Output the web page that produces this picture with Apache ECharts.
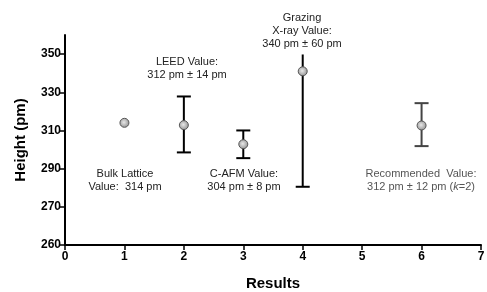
<!DOCTYPE html>
<html>
<head>
<meta charset="utf-8">
<script src="https://cdn.jsdelivr.net/npm/echarts@6/dist/echarts.min.js"></script>
<style>
  html, body { margin: 0; padding: 0; background: #fff; }
  #chart { width: 487px; height: 292px; }
</style>
</head>
<body>
<div id="chart"></div>
<script>
var results = [1, 2, 3, 4, 6];
var heights = [314, 312.8, 302.8, 341, 312.6];
var lows = [null, 298.5, 295.5, 280.5, 301.8];
var highs = [null, 327.8, 310, 349.8, 324.3];
var barColors = ['#000', '#000', '#000', '#000', '#444'];
var capped = [true, true, true, false, true]; // top cap drawn?
var yTicks = [250, 270, 290, 310, 330, 350];

var font = 'Arial, "Liberation Sans", sans-serif';

var errData = [];
for (var i = 0; i < results.length; i++) {
    if (lows[i] != null) errData.push([results[i], lows[i], highs[i], i]);
}

var chart = echarts.init(document.getElementById('chart'));

function txt(x, y, lines, color) {
    return {
        type: 'text', x: x, y: y,
        style: {
            text: lines, fill: color || '#222', font: '11px ' + font,
            align: 'center', verticalAlign: 'top', lineHeight: 13,
            rich: { i: { fontStyle: 'italic', fontSize: 11, fontFamily: font, fill: color || '#222' } }
        }
    };
}

chart.setOption({
    animation: false,
    grid: { left: 65, right: 6, top: 35, bottom: 47, containLabel: false, outerBoundsMode: 'none' },
    xAxis: {
        type: 'value', min: 0, max: 7, interval: 1,
        name: 'Results', nameLocation: 'middle', nameGap: 31,
        nameTextStyle: { fontFamily: font, fontWeight: 'bold', fontSize: 15, color: '#000' },
        axisLine: { lineStyle: { color: '#000', width: 2 } },
        axisTick: { length: 5, lineStyle: { color: '#000', width: 1.5 } },
        axisLabel: { fontFamily: font, fontWeight: 'bold', fontSize: 12, color: '#000', margin: 6 },
        splitLine: { show: false }
    },
    yAxis: {
        type: 'value', min: 250, max: 360,
        name: 'Height (pm)', nameLocation: 'middle', nameGap: 37, nameRotate: 90,
        nameTextStyle: { fontFamily: font, fontWeight: 'bold', fontSize: 15, color: '#000' },
        axisLine: { show: true, lineStyle: { color: '#000', width: 2 } },
        axisTick: { show: true, length: 5, customValues: yTicks, lineStyle: { color: '#000', width: 1.5 } },
        axisLabel: {
            fontFamily: font, fontWeight: 'bold', fontSize: 12, color: '#000', margin: 4,
            customValues: yTicks,
            formatter: function (v) { return v === 250 ? '260' : String(v); }
        },
        splitLine: { show: false }
    },
    series: [{
        type: 'custom',
        data: errData,
        renderItem: function (params, api) {
            var idx = api.value(3);
            var lo = api.coord([api.value(0), api.value(1)]);
            var hi = api.coord([api.value(0), api.value(2)]);
            var st = { stroke: barColors[idx], lineWidth: 2 };
            var kids = [
                { type: 'line', shape: { x1: lo[0], y1: lo[1], x2: hi[0], y2: hi[1] }, style: st },
                { type: 'line', shape: { x1: lo[0] - 7, y1: lo[1], x2: lo[0] + 7, y2: lo[1] }, style: st }
            ];
            if (capped[idx]) {
                kids.push({ type: 'line', shape: { x1: hi[0] - 7, y1: hi[1], x2: hi[0] + 7, y2: hi[1] }, style: st });
            }
            return { type: 'group', children: kids };
        },
        z: 2
    }, {
        type: 'scatter',
        data: results.map(function (r, i) { return [r, heights[i]]; }),
        symbol: 'circle', symbolSize: 9,
        itemStyle: {
            color: new echarts.graphic.RadialGradient(0.45, 0.45, 0.6, [
                { offset: 0, color: '#e8e8e8' },
                { offset: 1, color: '#8a8a8a' }
            ]),
            borderColor: '#555', borderWidth: 1, opacity: 1
        },
        z: 3
    }],
    graphic: [
        txt(187, 55, 'LEED Value:\n312 pm ± 14 pm'),
        txt(302, 11, 'Grazing\nX-ray Value:\n340 pm ± 60 pm'),
        txt(125, 167, 'Bulk Lattice\nValue:  314 pm'),
        txt(244, 167, 'C-AFM Value:\n304 pm ± 8 pm'),
        txt(421, 167, 'Recommended  Value:\n312 pm ± 12 pm ({i|k}=2)', '#555')
    ]
});
</script>
</body>
</html>
